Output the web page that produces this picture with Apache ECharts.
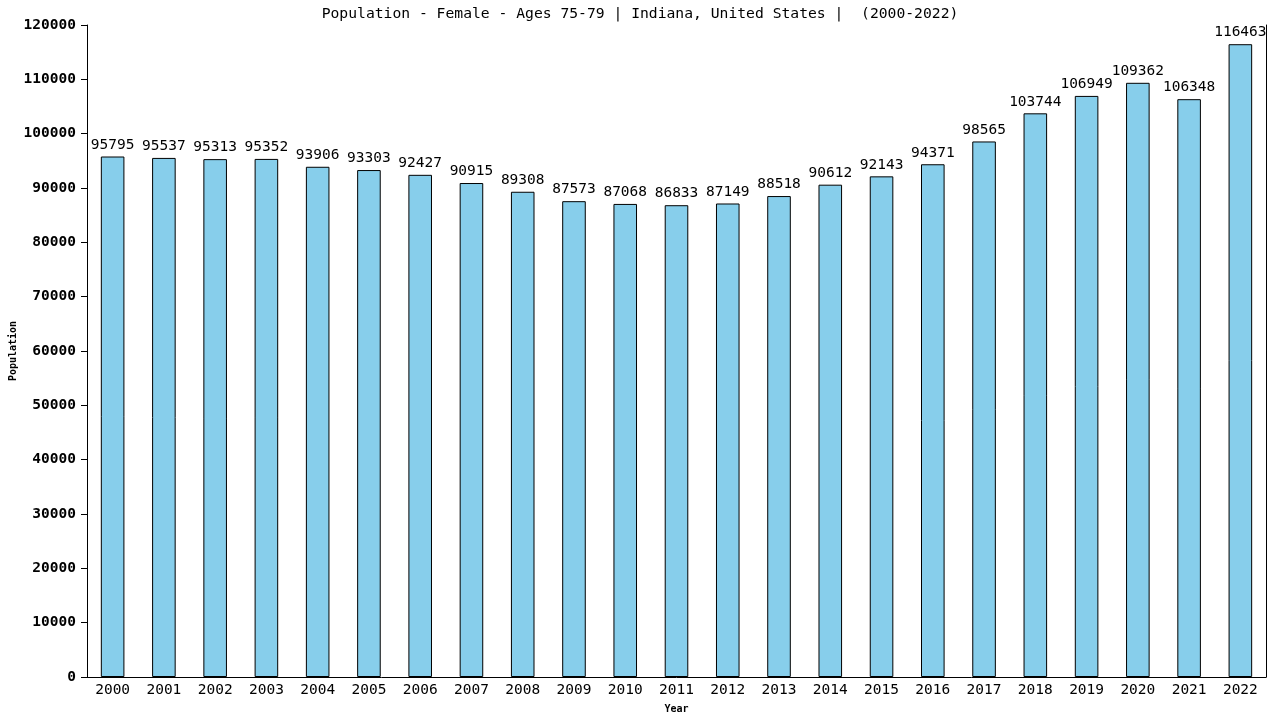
<html>
<head>
    <meta charset='utf-8'/>
    <title>Population - Female - Ages 75-79 | Indiana</title>
    <style>
        body {
            margin: 0;
            padding: 0;
        }

        #chart {
            width: 1280px;
            height: 720px;
        }
    </style>
</head>
<body>
<div id='chart'></div>
<script src="https://cdn.jsdelivr.net/npm/echarts@6/dist/echarts.min.js"></script>
<script type="text/javascript">
    var years = ['2000', '2001', '2002', '2003', '2004', '2005', '2006', '2007', '2008', '2009', '2010', '2011',
        '2012', '2013', '2014', '2015', '2016', '2017', '2018', '2019', '2020', '2021', '2022'];
    var population = [95795, 95537, 95313, 95352, 93906, 93303, 92427, 90915, 89308, 87573, 87068, 86833,
        87149, 88518, 90612, 92143, 94371, 98565, 103744, 106949, 109362, 106348, 116463];
    var font = 'DejaVu Sans Mono';

    var chart = echarts.init(document.getElementById('chart'));
    var option = {
        animation: false,
        title: {
            text: 'Population - Female - Ages 75-79 | Indiana, United States |  (2000-2022)',
            left: 'center',
            top: 2,
            textStyle: {fontFamily: font, fontSize: 14.7, fontWeight: 'normal', color: '#000'}
        },
        // y axis title placed by hand, the axis name kept sticking to the edge
        graphic: [{
            type: 'text',
            x: 13,
            y: 351,
            rotation: Math.PI / 2,
            style: {
                text: 'Population',
                font: 'bold 10px "DejaVu Sans Mono"',
                fill: '#000',
                align: 'center',
                verticalAlign: 'middle'
            }
        }],
        grid: {left: 87, right: 14, top: 25, bottom: 43, outerBoundsMode: 'none', containLabel: false},
        xAxis: {
            type: 'category',
            data: years,
            name: 'Year',
            nameLocation: 'middle',
            nameGap: 27,
            nameTextStyle: {fontFamily: font, fontSize: 10, fontWeight: 'bold', color: '#000'},
            axisLine: {lineStyle: {color: '#000'}},
            axisTick: {show: false},
            axisLabel: {fontFamily: font, fontSize: 14.5, color: '#000', margin: 6}
        },
        yAxis: [{
            type: 'value',
            min: 0,
            max: 120000,
            interval: 10000,
            axisLine: {show: true, lineStyle: {color: '#000'}},
            axisTick: {show: true, length: 6, lineStyle: {color: '#000'}},
            axisLabel: {
                fontFamily: font, fontSize: 14.5, fontWeight: 'bold', color: '#000', margin: 11,
                formatter: function (v) { return String(v); }
            },
            splitLine: {show: false}
        }, {
            type: 'value',
            position: 'right',
            min: 0,
            max: 120000,
            axisLine: {show: true, lineStyle: {color: '#000'}},
            axisTick: {show: false},
            axisLabel: {show: false},
            splitLine: {show: false}
        }],
        series: [{
            type: 'bar',
            data: population,
            barWidth: '46%',
            itemStyle: {color: '#87ceeb', borderColor: '#000', borderWidth: 1},
            label: {
                show: true,
                position: 'top',
                distance: 4,
                fontFamily: font,
                fontSize: 14.5,
                color: '#000'
            }
        }]
    };
    chart.setOption(option);
</script>
</body>
</html>
